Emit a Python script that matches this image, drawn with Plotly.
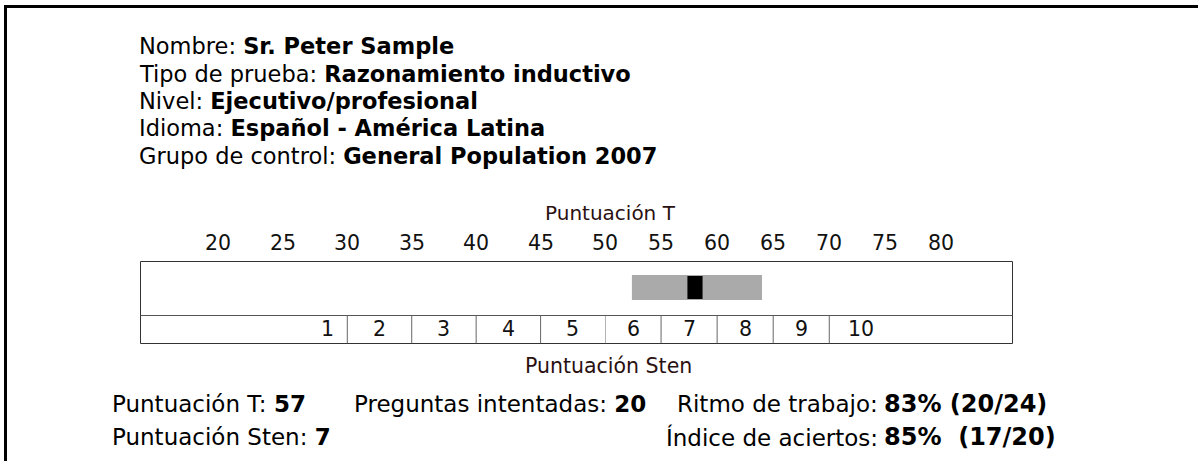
import plotly.graph_objects as go

# ---------------- data ----------------
header_labels = ["Nombre:", "Tipo de prueba:", "Nivel:", "Idioma:", "Grupo de control:"]
header_values = ["Sr. Peter Sample", "Razonamiento inductivo", "Ejecutivo/profesional",
                 "Español - América Latina", "General Population 2007"]
t_ticks = [20, 25, 30, 35, 40, 45, 50, 55, 60, 65, 70, 75, 80]
sten_labels = ["1", "2", "3", "4", "5", "6", "7", "8", "9", "10"]
sten_bounds = [30, 35, 40, 45, 50, 55, 60, 65, 70]
band_range = [52.4, 64.0]      # grey confidence band (T units)
marker_range = [57.35, 58.7]   # black score marker (T units)
t_score = 57
sten_score = 7
attempted = 20
total_questions = 24
correct = 17

# ---------------- layout helpers ----------------
W, H = 1198, 461
FONT = "Verdana, DejaVu Sans, sans-serif"
def px(x): return x / W
def py(y): return 1 - y / H

box_l, box_r, box_t, box_b, box_mid = 140.5, 1012.5, 261.5, 343.5, 315.5
split_px = 605          # pixel where T = 50 (two linear segments of the scale)
split_T = 50
left_rng = [13.95, split_T]
right_rng = [split_T, 86.34]

fig = go.Figure()

# row geometry in y data units (0 = box bottom, 1 = box top)
band_y0 = (box_b - 300) / (box_b - box_t)
band_y1 = (box_b - 275) / (box_b - box_t)
mark_y0 = (box_b - 299) / (box_b - box_t)
mark_y1 = (box_b - 276) / (box_b - box_t)

fig.add_trace(go.Bar(x=[band_range[1] - band_range[0]], base=[band_range[0]],
                     y=[(band_y0 + band_y1) / 2], width=[band_y1 - band_y0],
                     orientation="h", marker=dict(color="#aaaaaa", line=dict(width=0)),
                     xaxis="x2", yaxis="y", hoverinfo="skip", showlegend=False))
fig.add_trace(go.Bar(x=[marker_range[1] - marker_range[0]], base=[marker_range[0]],
                     y=[(mark_y0 + mark_y1) / 2], width=[mark_y1 - mark_y0],
                     orientation="h", marker=dict(color="#000000", line=dict(width=0)),
                     xaxis="x2", yaxis="y", hoverinfo="skip", showlegend=False))

shapes = []
# outer frame (top + left)
shapes.append(dict(type="line", xref="paper", yref="paper", x0=px(4), x1=1, y0=py(6.5), y1=py(6.5),
                   line=dict(color="black", width=3)))
shapes.append(dict(type="line", xref="paper", yref="paper", x0=px(5.5), x1=px(5.5), y0=py(5), y1=0,
                   line=dict(color="black", width=3)))
# chart box
shapes.append(dict(type="rect", xref="paper", yref="paper", x0=px(box_l), x1=px(box_r),
                   y0=py(box_b), y1=py(box_t), line=dict(color="#333333", width=1)))
shapes.append(dict(type="line", xref="paper", yref="paper", x0=px(box_l), x1=px(box_r),
                   y0=py(box_mid), y1=py(box_mid), line=dict(color="#555555", width=1)))
row_split = (box_b - box_mid) / (box_b - box_t)
for b in sten_bounds:
    shapes.append(dict(type="line", xref="x" if b < split_T else "x2", yref="y",
                       x0=b, x1=b, y0=0, y1=row_split, line=dict(color="#666666", width=1)))

ann = []
def note(**kw):
    kw.setdefault("showarrow", False)
    kw.setdefault("borderpad", 0)
    kw.setdefault("borderwidth", 0)
    ann.append(kw)

# header block
for i, (lab, val) in enumerate(zip(header_labels, header_values)):
    note(xref="paper", yref="paper", x=px(139), y=py(46 + i * 27.5),
         xanchor="left", yanchor="middle",
         text=f"{lab} <b>{val}</b>", font=dict(size=22.5, color="black", family=FONT))
# T-score axis
note(xref="paper", yref="paper", x=px(610), y=py(213), xanchor="center", yanchor="middle",
     text="Puntuación T", font=dict(size=20, color="#2a1010", family=FONT))
for t in t_ticks:
    note(xref="x" if t < split_T else "x2", yref="paper", x=t, y=py(243),
         xanchor="center", yanchor="middle", text=str(t),
         font=dict(size=20.5, color="#111111", family=FONT))
# sten labels
edges = [None] + sten_bounds + [None]
for i, lab in enumerate(sten_labels):
    lo, hi = edges[i], edges[i + 1]
    if lo is None:
        x, xa, xs = hi, "right", -13
    elif hi is None:
        x, xa, xs = lo, "left", 19
    else:
        x, xa, xs = (lo + hi) / 2, "center", 0
    note(xref="x" if x < split_T else "x2", yref="paper", x=x, y=py(329),
         xanchor=xa, xshift=xs, yanchor="middle", text=lab,
         font=dict(size=20.5, color="#111111", family=FONT))
note(xref="paper", yref="paper", x=px(608.5), y=py(366), xanchor="center", yanchor="middle",
     text="Puntuación Sten", font=dict(size=20.5, color="#2a1010", family=FONT))

# bottom statistics
rate = round(100 * attempted / total_questions)
acc = round(100 * correct / attempted)
bf = dict(size=23, color="black", family=FONT)
def txt(x, y, s, anchor="left", font=bf):
    note(xref="paper", yref="paper", x=px(x), y=py(y), xanchor=anchor, yanchor="middle",
         text=s, font=font)
txt(112, 404, f"Puntuación T: <b>{t_score}</b>")
txt(354, 404, f"Preguntas intentadas: <b>{attempted}</b>")
txt(878, 404, "Ritmo de trabajo:", "right")
txt(884, 404, f"<b>{rate}% ({attempted}/{total_questions})</b>", font=dict(bf, size=24))
txt(112, 437, f"Puntuación Sten: <b>{sten_score}</b>")
txt(878, 437, "Índice de aciertos:", "right")
txt(884, 437, f"<b>{acc}%\u00a0 ({correct}/{attempted})</b>", font=dict(bf, size=24))

fig.update_layout(
    width=W, height=H, margin=dict(l=0, r=0, t=0, b=0),
    paper_bgcolor="white", plot_bgcolor="rgba(0,0,0,0)",
    showlegend=False, barmode="overlay",
    xaxis=dict(domain=[px(box_l), px(split_px)], range=left_rng, visible=False, fixedrange=True),
    xaxis2=dict(domain=[px(split_px), px(box_r)], range=right_rng, visible=False, fixedrange=True,
                anchor="y"),
    yaxis=dict(domain=[py(box_b), py(box_t)], range=[0, 1], visible=False, fixedrange=True),
    shapes=shapes, annotations=ann,
)

fig.write_html("out.html", config={"displayModeBar": False},
               post_script="document.body.style.margin='0';document.body.style.overflow='hidden';")
